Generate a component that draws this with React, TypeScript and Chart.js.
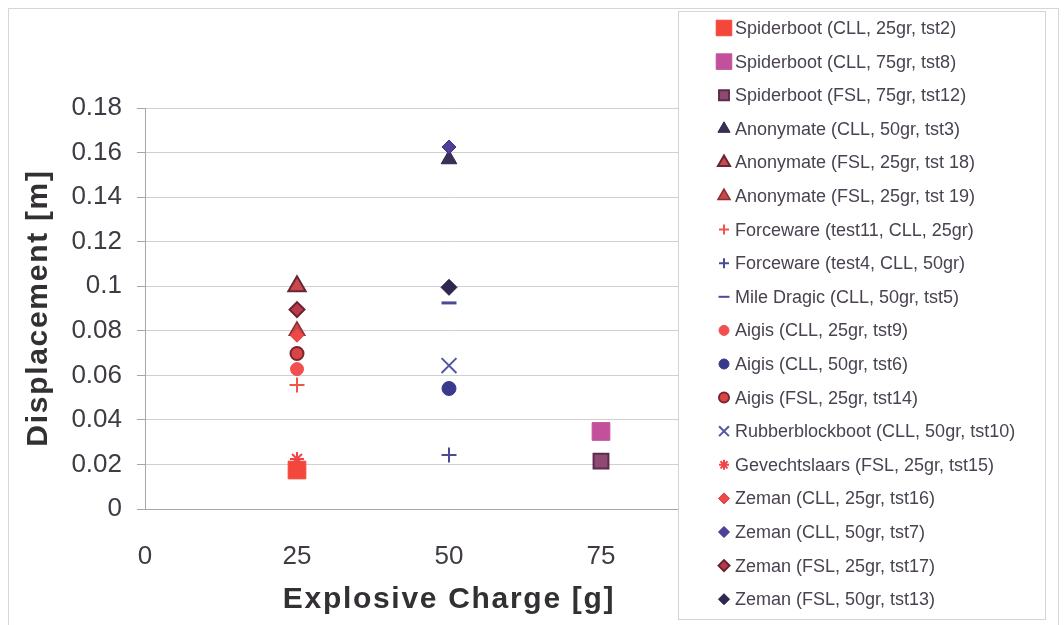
import React, { useEffect, useRef } from 'react';
import { Chart, registerables } from 'chart.js';
import { drawPoint } from 'chart.js/helpers';

Chart.register(...registerables);

// ---- data ----
const seriesLabels = [
  'Spiderboot (CLL, 25gr, tst2)',
  'Spiderboot (CLL, 75gr, tst8)',
  'Spiderboot (FSL, 75gr, tst12)',
  'Anonymate (CLL, 50gr, tst3)',
  'Anonymate (FSL, 25gr, tst 18)',
  'Anonymate (FSL, 25gr, tst 19)',
  'Forceware (test11, CLL, 25gr)',
  'Forceware (test4, CLL, 50gr)',
  'Mile Dragic (CLL, 50gr, tst5)',
  'Aigis (CLL, 25gr, tst9)',
  'Aigis (CLL, 50gr, tst6)',
  'Aigis (FSL, 25gr, tst14)',
  'Rubberblockboot (CLL, 50gr, tst10)',
  'Gevechtslaars (FSL, 25gr, tst15)',
  'Zeman (CLL, 25gr, tst16)',
  'Zeman (CLL, 50gr, tst7)',
  'Zeman (FSL, 25gr, tst17)',
  'Zeman (FSL, 50gr, tst13)',
];
const charges = [25, 75, 75, 50, 25, 25, 25, 50, 50, 25, 50, 25, 50, 25, 25, 50, 25, 50];
const displacements = [
  0.0175, 0.0348, 0.0215, 0.157, 0.1, 0.08, 0.0557, 0.0242, 0.0925, 0.0628,
  0.0541, 0.0698, 0.0644, 0.0225, 0.078, 0.1625, 0.0895, 0.0995,
];
const xTicks = [0, 25, 50, 75, 100];
const xTickLabels = ['0', '25', '50', '75', '100'];
const yTicks = [0, 0.02, 0.04, 0.06, 0.08, 0.1, 0.12, 0.14, 0.16, 0.18];
const yTickLabels = ['0', '0.02', '0.04', '0.06', '0.08', '0.1', '0.12', '0.14', '0.16', '0.18'];
const xTitle = 'Explosive Charge [g]';
const yTitle = 'Displacement [m]';

// ---- styles ----
const markerStyles = [
  'rect', 'rect', 'rect', 'triangle', 'triangle', 'triangle', 'cross', 'cross', 'line',
  'circle', 'circle', 'circle', 'crossRot', 'star', 'rectRot', 'rectRot', 'rectRot', 'rectRot',
];
const fillColors = [
  '#f4473b', '#c2509a', '#8e4a72', '#3b2f5a', '#c84b4b', '#c84848', '#f05548', '#4a4a98', '#4a4a98',
  '#f25050', '#3a3a8c', '#d84545', '#5555a5', '#f04545', '#f04848', '#4f3f98', '#b83a48', '#2f2850',
];
const borderColors = [
  '#f4473b', '#c2509a', '#5e2a4c', '#2e2448', '#6a2535', '#8a2d35', '#f05548', '#4a4a98', '#4a4a98',
  '#f25050', '#3a3a8c', '#7a2530', '#5555a5', '#f04545', '#d83c3c', '#3f3280', '#6a2030', '#241e40',
];
const borderWidths = [1, 1, 2, 1, 2, 1.5, 2, 2, 3, 1, 1, 2, 2, 2, 1, 1, 2, 1];
const chartRadii = [12.5, 12.5, 10.5, 9, 10, 9, 7.5, 7.5, 7.5, 6.5, 7, 6.5, 10.5, 7, 7, 7, 7.5, 8];
const legendRadii = [11, 11, 7, 7, 7, 7, 5, 5, 5.5, 5, 5, 5, 7, 5, 5.5, 5.5, 5.5, 5.5];

const FONT = '"Liberation Sans", Arial, Helvetica, sans-serif';

const decorPlugin = {
  id: 'decor',
  beforeDraw(chart: any) {
    const ctx = chart.ctx;
    ctx.save();
    ctx.fillStyle = '#ffffff';
    ctx.fillRect(0, 0, chart.width, chart.height);
    ctx.strokeStyle = '#d6d6d8';
    ctx.lineWidth = 1;
    ctx.strokeRect(8.5, 8.5, 1050, 640);
    ctx.restore();
  },
  afterDraw(chart: any) {
    const ctx = chart.ctx;
    const area = chart.chartArea;
    ctx.save();
    // legend box
    const lx = 678, ly = 11, lw = 367, lh = 608;
    ctx.fillStyle = '#ffffff';
    ctx.fillRect(lx, ly, lw, lh);
    ctx.strokeStyle = '#d4d4d8';
    ctx.lineWidth = 1;
    ctx.strokeRect(lx + 0.5, ly + 0.5, lw, lh);
    for (let i = 0; i < seriesLabels.length; i++) {
      const y = 28 + i * 33.6;
      ctx.save();
      ctx.fillStyle = fillColors[i];
      ctx.strokeStyle = borderColors[i];
      ctx.lineWidth = Math.min(borderWidths[i], 2);
      drawPoint(ctx, { pointStyle: markerStyles[i], radius: legendRadii[i], rotation: 0, borderWidth: Math.min(borderWidths[i], 2) } as any, 724, y);
      ctx.restore();
      ctx.fillStyle = '#4a4250';
      ctx.font = `18px ${FONT}`;
      ctx.textAlign = 'left';
      ctx.textBaseline = 'middle';
      ctx.fillText(seriesLabels[i], 735, y + 1);
    }
    // axis titles
    ctx.fillStyle = '#333033';
    ctx.font = `bold 30px ${FONT}`;
    (ctx as any).letterSpacing = '1.7px';
    ctx.textAlign = 'center';
    ctx.textBaseline = 'alphabetic';
    ctx.fillText(xTitle, (area.left + area.right) / 2, 608);
    ctx.translate(47, 308);
    ctx.rotate(-Math.PI / 2);
    ctx.fillText(yTitle, 0, 0);
    ctx.restore();
  },
};

export default function App() {
  const canvasRef = useRef<HTMLCanvasElement | null>(null);

  useEffect(() => {
    const canvas = canvasRef.current;
    if (!canvas) return;
    const datasets = seriesLabels.map((label, i) => ({
      label,
      data: [{ x: charges[i], y: displacements[i] }],
      pointStyle: markerStyles[i],
      pointRadius: chartRadii[i],
      pointHoverRadius: chartRadii[i],
      backgroundColor: fillColors[i],
      borderColor: borderColors[i],
      pointBorderWidth: borderWidths[i],
      borderWidth: borderWidths[i],
      order: seriesLabels.length - i,
      showLine: false,
    }));
    const chart = new Chart(canvas, {
      type: 'scatter',
      data: { datasets: datasets as any },
      plugins: [decorPlugin],
      options: {
        responsive: false,
        animation: false,
        devicePixelRatio: 1,
        layout: { padding: { top: 108, right: 311, left: 0, bottom: 0 } },
        plugins: {
          legend: { display: false },
          tooltip: { enabled: false },
          title: { display: false },
        },
        scales: {
          x: {
            type: 'linear',
            min: 0,
            max: 100,
            afterBuildTicks: (scale: any) => {
              scale.ticks = xTicks.map((v) => ({ value: v }));
            },
            afterFit: (scale: any) => {
              scale.height = 116;
            },
            grid: { display: false },
            border: { display: true, color: '#a8a6ac', width: 1 },
            ticks: {
              padding: 24,
              color: '#3f3a44',
              font: { family: FONT, size: 26 },
              callback: (v: any) => {
                const idx = xTicks.indexOf(Number(v));
                return idx >= 0 ? xTickLabels[idx] : '';
              },
            },
          },
          y: {
            type: 'linear',
            min: 0,
            max: 0.18,
            afterBuildTicks: (scale: any) => {
              scale.ticks = yTicks.map((v) => ({ value: v }));
            },
            afterFit: (scale: any) => {
              scale.width = 145;
            },
            grid: {
              display: true,
              color: '#cfcfd4',
              lineWidth: 1,
              drawTicks: true,
              tickLength: 8,
              tickColor: '#a8a6ac',
            },
            border: { display: true, color: '#a8a6ac', width: 1 },
            ticks: {
              padding: 15,
              color: '#3f3a44',
              font: { family: FONT, size: 26 },
              callback: (v: any) => {
                const idx = yTicks.findIndex((t) => Math.abs(t - Number(v)) < 1e-9);
                return idx >= 0 ? yTickLabels[idx] : '';
              },
            },
          },
        },
      },
    });
    return () => chart.destroy();
  }, []);

  return (
    <div style={{ position: 'absolute', left: 0, top: 0, width: 1064, height: 625 }}>
      <canvas ref={canvasRef} width={1064} height={625} style={{ width: 1064, height: 625, display: 'block' }} />
    </div>
  );
}
